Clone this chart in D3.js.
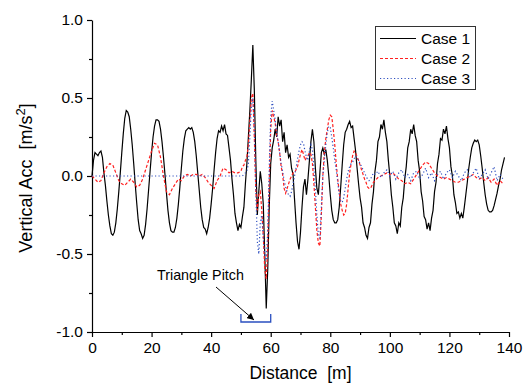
<!DOCTYPE html>
<html>
<head>
<meta charset="utf-8">
<script src="https://cdn.jsdelivr.net/npm/d3@7"></script>
<style>
  body { margin: 0; background: #fff; }
  svg { font-family: Arial, "Liberation Sans", sans-serif; }
  text { white-space: pre; }
</style>
</head>
<body>
<div id="canvas"></div>
<script>
// Case 1 sampled every 0.5 m starting at 0 m
var case1Step = 0.5;
var case1 = [
  0.00, 0.10, 0.15, 0.14, 0.13, 0.15, 0.16, 0.12, 0.02, -0.06, -0.16, -0.25, -0.32, -0.37, -0.38, -0.36, -0.30, -0.21, -0.10, 0.02,
  0.15, 0.27, 0.37, 0.42, 0.41, 0.38, 0.30, 0.20, 0.08, -0.05, -0.17, -0.28, -0.35, -0.37, -0.40, -0.38, -0.31, -0.21, -0.09, 0.03,
  0.15, 0.25, 0.32, 0.36, 0.36, 0.35, 0.30, 0.22, 0.12, 0.01, -0.11, -0.22, -0.30, -0.35, -0.36, -0.36, -0.33, -0.27, -0.18, -0.07,
  0.05, 0.16, 0.24, 0.29, 0.30, 0.31, 0.30, 0.31, 0.28, 0.22, 0.13, 0.02, -0.09, -0.20, -0.28, -0.33, -0.34, -0.37, -0.33, -0.27,
  -0.18, -0.08, 0.04, 0.15, 0.24, 0.29, 0.28, 0.32, 0.29, 0.33, 0.27, 0.26, 0.18, 0.10, -0.02, -0.12, -0.24, -0.30, -0.35, -0.31,
  -0.33, -0.26, -0.20, -0.05, 0.08, 0.25, 0.42, 0.62, 0.84, 0.55, 0.10, -0.25, -0.10, 0.03, -0.05, -0.18, -0.50, -0.85, -0.60, -0.20,
  0.08, 0.18, 0.23, 0.30, 0.25, 0.38, 0.32, 0.36, 0.22, 0.28, 0.15, 0.20, 0.12, 0.14, 0.05, 0.01, -0.15, -0.30, -0.42, -0.47,
  -0.36, -0.20, -0.07, -0.02, -0.12, -0.02, 0.10, 0.22, 0.30, 0.22, 0.05, -0.08, -0.12, 0.02, 0.15, 0.18, 0.14, 0.17, 0.10, 0.00,
  -0.12, -0.22, -0.28, -0.30, -0.30, -0.28, -0.20, -0.07, 0.07, 0.20, 0.28, 0.30, 0.33, 0.35, 0.31, 0.32, 0.24, 0.16, 0.05, -0.05,
  -0.14, -0.20, -0.30, -0.33, -0.38, -0.40, -0.33, -0.30, -0.18, -0.10, 0.03, 0.10, 0.22, 0.25, 0.33, 0.30, 0.36, 0.28, 0.22, 0.10,
  0.00, -0.12, -0.20, -0.30, -0.32, -0.37, -0.30, -0.32, -0.20, -0.14, -0.02, 0.06, 0.18, 0.22, 0.30, 0.27, 0.33, 0.26, 0.22, 0.10,
  0.03, -0.10, -0.16, -0.26, -0.28, -0.34, -0.30, -0.35, -0.27, -0.22, -0.10, -0.04, 0.08, 0.14, 0.24, 0.23, 0.30, 0.27, 0.32, 0.24,
  0.18, 0.06, 0.00, -0.12, -0.17, -0.24, -0.23, -0.27, -0.24, -0.27, -0.20, -0.12, -0.04, 0.05, 0.12, 0.18, 0.21, 0.23, 0.22, 0.23,
  0.20, 0.13, 0.05, -0.04, -0.12, -0.18, -0.22, -0.23, -0.23, -0.22, -0.19, -0.15, -0.11, -0.06, -0.02, 0.04, 0.08, 0.12
];

// Case 2 as [distance, acc]
var case2 = [
  [0,0.00],[1,-0.02],[2,-0.04],[3,-0.03],[4,0.02],[5,0.06],[6,0.08],[7,0.07],[8,0.02],[9,-0.03],
  [10,-0.05],[11,-0.06],[12,-0.04],[13,-0.02],[14,-0.04],[15,-0.07],[16,-0.06],[17,-0.02],[18,0.04],[19,0.10],
  [20,0.16],[21,0.21],[22,0.20],[23,0.12],[24,0.00],[25,-0.10],[26,-0.12],[27,-0.08],[28,-0.05],[29,-0.02],
  [30,-0.03],[31,0.00],[32,0.01],[33,0.00],[34,0.01],[35,0.01],[36,0.00],[37,0.01],[38,-0.01],[39,-0.04],
  [40,-0.06],[41,-0.08],[42,-0.03],[43,0.00],[44,0.05],[45,0.04],[46,0.02],[47,0.03],[48,0.02],[49,0.02],
  [50,0.03],[50.5,0.06],[51,0.07],[51.5,0.10],[52,0.12],[52.5,0.20],[53,0.35],[53.5,0.50],[54,0.53],[54.5,0.25],
  [55,-0.10],[55.5,-0.22],[56,-0.12],[56.5,-0.10],[57,-0.22],[57.5,-0.38],[58,-0.60],[58.5,-0.66],[59,-0.45],[59.5,-0.05],
  [60,0.30],[60.5,0.42],[61,0.38],[61.5,0.34],[62,0.26],[62.5,0.22],[63,0.15],[63.5,0.06],[64,0.01],[64.5,-0.08],
  [65,-0.11],[65.5,-0.08],[66,-0.05],[66.5,-0.02],[67,0.00],[67.5,0.02],[68,0.02],[68.5,0.04],[69,0.06],[69.5,0.10],
  [70,0.14],[70.5,0.17],[71,0.14],[71.5,0.10],[72,0.12],[72.5,0.13],[73,0.15],[73.5,0.14],[74,0.08],[74.5,-0.05],
  [75,-0.20],[75.5,-0.35],[76,-0.43],[76.5,-0.45],[77,-0.25],[77.5,0.00],[78,0.15],[78.5,0.24],[79,0.30],[79.5,0.36],
  [80,0.39],[80.5,0.38],[81,0.30],[81.5,0.20],[82,0.08],[82.5,-0.02],[83,-0.10],[83.5,-0.18],[84,-0.22],[84.5,-0.25],
  [85,-0.24],[85.5,-0.18],[86,-0.08],[86.5,0.02],[87,0.08],[87.5,0.13],[88,0.16],[88.5,0.15],[89,0.12],[89.5,0.10],
  [90,0.07],[90.5,0.04],[91,0.01],[91.5,-0.02],[92,-0.04],[92.5,-0.07],[93,-0.08],[93.5,-0.08],[94,-0.06],[94.5,-0.04],
  [95,-0.03],[96,-0.01],[97,0.00],[98,0.01],[99,0.02],[100,0.01],[101,0.02],[102,0.00],[103,-0.02],[104,-0.03],
  [105,-0.05],[106,-0.04],[107,-0.05],[108,-0.02],[109,0.01],[110,0.04],[111,0.07],[112,0.09],[113,0.08],[114,0.05],
  [115,0.02],[116,0.00],[117,-0.01],[118,-0.02],[119,-0.01],[120,-0.02],[121,-0.03],[122,-0.04],[123,-0.04],[124,-0.03],
  [125,-0.02],[126,-0.01],[127,0.00],[128,0.01],[129,-0.01],[130,-0.02],[131,-0.01],[132,-0.03],[133,-0.01],[134,-0.04],
  [135,-0.02],[136,-0.06],[137,-0.03],[138,-0.05]
];

// Case 3 as [distance, acc]
var case3 = [
  [0,0.00],[10,0.00],[20,0.00],[30,0.00],[40,0.00],[50,0.00],
  [50.5,0.00],[51,0.01],[51.5,0.02],[52,0.03],[52.5,0.08],[53,0.25],[53.5,0.45],[54,0.50],[54.5,0.30],
  [55,-0.10],[55.5,-0.42],[56,-0.50],[56.5,-0.30],[57,-0.25],[57.5,-0.40],[58,-0.50],[58.5,-0.54],[59,-0.35],[59.5,0.05],
  [60,0.38],[60.5,0.48],[61,0.42],[61.5,0.36],[62,0.28],[62.5,0.22],[63,0.15],[63.5,0.08],[64,0.03],[64.5,-0.03],
  [65,-0.07],[65.5,-0.10],[66,-0.12],[66.5,-0.13],[67,-0.10],[67.5,-0.05],[68,0.00],[68.5,0.05],[69,0.11],[69.5,0.16],
  [70,0.20],[70.5,0.22],[71,0.21],[71.5,0.16],[72,0.12],[72.5,0.10],[73,0.16],[73.5,0.20],[74,0.17],[74.5,0.05],
  [75,-0.08],[75.5,-0.25],[76,-0.38],[76.5,-0.40],[77,-0.20],[77.5,0.00],[78,0.10],[78.5,0.20],[79,0.28],[79.5,0.32],
  [80,0.31],[80.5,0.25],[81,0.18],[81.5,0.10],[82,0.04],[82.5,-0.04],[83,-0.12],[83.5,-0.16],[84,-0.17],[84.5,-0.14],
  [85,-0.08],[85.5,-0.02],[86,0.03],[86.5,0.06],[87,0.08],[87.5,0.09],[88,0.11],[88.5,0.13],[89,0.12],[89.5,0.10],
  [90,0.08],[90.5,0.06],[91,0.04],[91.5,0.02],[92,0.00],[92.5,-0.02],[93,-0.03],[93.5,-0.02],[94,0.00],[94.5,0.02],
  [95,0.01],[96,0.03],[97,-0.01],[98,0.02],[99,0.04],[100,0.00],[101,0.03],[102,-0.02],[103,0.02],[104,0.04],
  [105,-0.01],[106,0.01],[107,-0.03],[108,0.02],[109,0.03],[110,-0.02],[111,0.01],[112,0.05],[113,-0.01],[114,0.02],
  [115,-0.03],[116,0.01],[117,0.03],[118,-0.02],[119,0.02],[120,0.04],[121,-0.01],[122,0.03],[123,0.00],[124,-0.03],
  [125,0.02],[126,0.04],[127,-0.01],[128,0.02],[129,0.05],[130,-0.02],[131,0.01],[132,0.04],[133,-0.02],[134,0.02],
  [135,0.06],[136,-0.03],[137,0.01],[138,-0.02]
];

var xTicks = [0, 20, 40, 60, 80, 100, 120, 140];
var xMinorTicks = [10, 30, 50, 70, 90, 110, 130];
var yTicks = [-1.0, -0.5, 0.0, 0.5, 1.0];
var yMinorTicks = [-0.75, -0.25, 0.25, 0.75];
var seriesNames = ["Case 1", "Case 2", "Case 3"];
var pitchRange = [50, 60];

var width = 523, height = 385;
var margin = {left: 92, right: 14, top: 20, bottom: 53};

var svg = d3.select("#canvas").append("svg")
  .attr("width", width)
  .attr("height", height);

var x = d3.scaleLinear().domain([0, 140]).range([margin.left, width - margin.right]);
var y = d3.scaleLinear().domain([-1, 1]).range([height - margin.bottom, margin.top]);

// axes
var xAxis = svg.append("g")
  .attr("transform", "translate(0," + y(-1) + ")")
  .call(d3.axisBottom(x).tickValues(xTicks).tickFormat(d3.format("d")).tickSize(5).tickSizeOuter(0).tickPadding(5));
svg.append("g")
  .attr("transform", "translate(0," + y(-1) + ")")
  .call(d3.axisBottom(x).tickValues(xMinorTicks).tickFormat("").tickSize(3).tickSizeOuter(0))
  .select(".domain").remove();

var yAxis = svg.append("g")
  .attr("transform", "translate(" + x(0) + ",0)")
  .call(d3.axisLeft(y).tickValues(yTicks).tickFormat(d3.format(".1f")).tickSize(5).tickSizeOuter(0).tickPadding(4));
svg.append("g")
  .attr("transform", "translate(" + x(0) + ",0)")
  .call(d3.axisLeft(y).tickValues(yMinorTicks).tickFormat("").tickSize(3).tickSizeOuter(0))
  .select(".domain").remove();

svg.selectAll(".tick text").attr("font-size", 15.5).attr("fill", "#000").style("font-family", "Arial, 'Liberation Sans', sans-serif");
svg.selectAll(".domain, .tick line").attr("stroke", "#000").attr("stroke-width", 1.2);
// minus sign as plain hyphen
yAxis.selectAll(".tick text").text(function(d){ return d3.format(".1f")(d).replace("\u2212", "-"); });

// axis titles
svg.append("text")
  .attr("x", (x(0) + x(140)) / 2)
  .attr("y", 379)
  .attr("text-anchor", "middle")
  .attr("font-size", 17.5)
  .text("Distance  [m]");

var yTitle = svg.append("text")
  .attr("transform", "translate(32,178) rotate(-90)")
  .attr("text-anchor", "middle")
  .attr("font-size", 18);
yTitle.append("tspan").text("Vertical Acc  [m/s");
yTitle.append("tspan").attr("dy", -7).attr("font-size", 13).text("2");
yTitle.append("tspan").attr("dy", 7).text("]");

// lines
var line = d3.line().x(function(d){ return x(d[0]); }).y(function(d){ return y(d[1]); });
var case1Points = case1.map(function(v, i){ return [i * case1Step, v]; });

svg.append("path").datum(case1Points)
  .attr("d", line).attr("fill", "none")
  .attr("stroke", "#000").attr("stroke-width", 1.2);
svg.append("path").datum(case2)
  .attr("d", line).attr("fill", "none")
  .attr("stroke", "#ff2020").attr("stroke-width", 1.2)
  .attr("stroke-dasharray", "3,2");
svg.append("path").datum(case3)
  .attr("d", line).attr("fill", "none")
  .attr("stroke", "#3050c0").attr("stroke-width", 1.2)
  .attr("stroke-dasharray", "1.2,2.3");

// legend
var legend = svg.append("g");
legend.append("rect")
  .attr("x", 375.5).attr("y", 26.5).attr("width", 100).attr("height", 63)
  .attr("fill", "#fff").attr("stroke", "#333").attr("stroke-width", 1);
var legendStyles = [
  {color: "#000", dash: null},
  {color: "#ff2020", dash: "3,2"},
  {color: "#3050c0", dash: "1.2,2.3"}
];
seriesNames.forEach(function(name, i){
  var ly = 38.5 + i * 20;
  legend.append("line")
    .attr("x1", 380).attr("x2", 416).attr("y1", ly).attr("y2", ly)
    .attr("stroke", legendStyles[i].color).attr("stroke-width", 1.2)
    .attr("stroke-dasharray", legendStyles[i].dash);
  legend.append("text")
    .attr("x", 421).attr("y", ly + 5.5)
    .attr("font-size", 15.5)
    .text(name);
});

// triangle pitch annotation
svg.append("defs").append("marker")
  .attr("id", "arrow").attr("viewBox", "0 0 10 10")
  .attr("refX", 10).attr("refY", 5)
  .attr("markerWidth", 7).attr("markerHeight", 7)
  .attr("orient", "auto")
  .append("path").attr("d", "M0,0 L10,5 L0,10 z").attr("fill", "#000");

svg.append("text")
  .attr("x", 157).attr("y", 280)
  .attr("font-size", 14.3)
  .text("Triangle Pitch");
svg.append("line")
  .attr("x1", 216).attr("y1", 287).attr("x2", 254).attr("y2", 320)
  .attr("stroke", "#000").attr("stroke-width", 1)
  .attr("marker-end", "url(#arrow)");

svg.append("path")
  .attr("d", "M" + x(pitchRange[0]) + ",314 V322 H" + x(pitchRange[1]) + " V314")
  .attr("fill", "none").attr("stroke", "#2a4fc0").attr("stroke-width", 1.3);
</script>
</body>
</html>
